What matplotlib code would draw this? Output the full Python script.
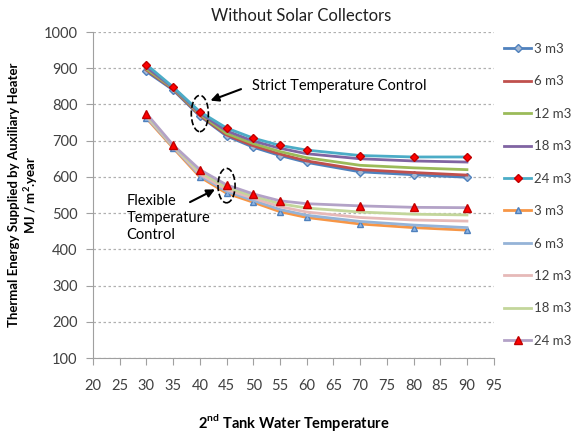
import matplotlib.pyplot as plt
from matplotlib.patches import Ellipse

plt.rcParams['font.family'] = ['Lato', 'DejaVu Sans']
plt.rcParams['mathtext.fontset'] = 'custom'
plt.rcParams['mathtext.rm'] = 'Lato'
plt.rcParams['mathtext.bf'] = 'Lato:bold'

# Data
temps = [30, 35, 40, 45, 50, 55, 60, 70, 80, 90]
labels = ['3 m3', '6 m3', '12 m3', '18 m3', '24 m3']

# strict temperature control
strict_3 = [891, 840, 768, 713, 682, 659, 640, 614, 606, 599]
strict_6 = [895, 842, 770, 716, 686, 663, 644, 620, 612, 605]
strict_12 = [898, 844, 773, 720, 692, 670, 653, 632, 625, 620]
strict_18 = [903, 846, 776, 727, 699, 679, 664, 650, 644, 641]
strict_24 = [910, 848, 780, 735, 707, 687, 674, 659, 655, 655]

# flexible temperature control
flex_3 = [762, 680, 600, 555, 530, 504, 488, 470, 460, 453]
flex_6 = [765, 683, 604, 560, 535, 510, 494, 477, 467, 460]
flex_12 = [768, 685, 608, 565, 541, 518, 503, 488, 481, 478]
flex_18 = [771, 686, 614, 571, 547, 526, 514, 503, 497, 495]
flex_24 = [775, 688, 620, 578, 553, 534, 526, 520, 516, 515]

strict = [strict_3, strict_6, strict_12, strict_18, strict_24]
flex = [flex_3, flex_6, flex_12, flex_18, flex_24]
strict_colors = ['#4F81BD', '#C0504D', '#9BBB59', '#8064A2', '#4BACC6']
flex_colors = ['#F79646', '#95B3D7', '#E6B9B8', '#C3D69B', '#B3A2C7']

fig = plt.figure(figsize=(5.79, 4.42), dpi=100)
ax = fig.add_axes([0.1606, 0.19, 0.692, 0.7376])

handles = []
for i, (vals, c) in enumerate(zip(strict, strict_colors)):
    kw = {}
    if i == 0:
        kw = dict(marker='D', markersize=4, markerfacecolor='#A6B9D3', markeredgecolor='#4F81BD')
    elif i == 4:
        kw = dict(marker='D', markersize=4.5, markerfacecolor='#FF0000', markeredgecolor='#C00000')
    h, = ax.plot(temps, vals, color=c, lw=2, label=labels[i], zorder=3 + i, **kw)
    handles.append(h)
for i, (vals, c) in enumerate(zip(flex, flex_colors)):
    kw = {}
    if i == 0:
        kw = dict(marker='^', markersize=5, markerfacecolor='#8EB4E3', markeredgecolor='#4F81BD')
    elif i == 4:
        kw = dict(marker='^', markersize=5.5, markerfacecolor='#FF0000', markeredgecolor='#C00000')
    h, = ax.plot(temps, vals, color=c, lw=2, label=labels[i], zorder=3 + i, **kw)
    handles.append(h)

ax.set_xlim(20, 95)
ax.set_ylim(100, 1000)
ax.set_xticks(range(20, 100, 5))
ax.set_yticks(range(100, 1100, 100))
ax.yaxis.grid(True, linestyle=(0, (2, 2)), color='#B0B0B0', lw=0.9)
ax.set_axisbelow(True)
for s in ['top', 'right']:
    ax.spines[s].set_visible(False)
for s in ['left', 'bottom']:
    ax.spines[s].set_color('#A0A0A0')
ax.tick_params(axis='both', colors='#A0A0A0', labelcolor='#404040', labelsize=10.5, length=5)
ax.tick_params(axis='x', pad=10)
ax.tick_params(axis='y', pad=6)

ax.set_title('Without Solar Collectors', fontsize=12, color='#202020', pad=8, x=0.52)
ax.set_xlabel('2$^{\\mathbf{nd}}$ Tank Water Temperature', fontsize=10.5, fontweight='bold', labelpad=14)
ax.set_ylabel('Thermal Energy Supplied by Auxiliary Heater\nMJ / m$^{\\mathbf{2}}$.year',
              fontsize=9.5, fontweight='bold', labelpad=3, linespacing=1.1)

# annotations
ax.add_patch(Ellipse((40, 775), 3.2, 100, fill=False, ls='--', lw=1.2, color='black', zorder=20))
ax.add_patch(Ellipse((45, 576), 3.2, 95, fill=False, ls='--', lw=1.2, color='black', zorder=20))
ax.text(49.8, 852, 'Strict Temperature Control', fontsize=10.5, va='center', ha='left')
ax.annotate('', xy=(41.5, 808), xytext=(48.2, 845),
            arrowprops=dict(arrowstyle='-|>', color='black', lw=1.5, mutation_scale=12))
ax.text(26.3, 487, 'Flexible\nTemperature\nControl', fontsize=10.5, va='center', ha='left',
        linespacing=1.3)
ax.annotate('', xy=(43.3, 569), xytext=(37.7, 527),
            arrowprops=dict(arrowstyle='-|>', color='black', lw=1.5, mutation_scale=12))

fig.legend(handles=handles, loc='upper left', bbox_to_anchor=(0.862, 0.915), frameon=False,
           fontsize=9.5, labelspacing=1.55, handlelength=2.0, handletextpad=0.25,
           labelcolor='#404040', borderaxespad=0)

fig.savefig('out.png', dpi=100)
